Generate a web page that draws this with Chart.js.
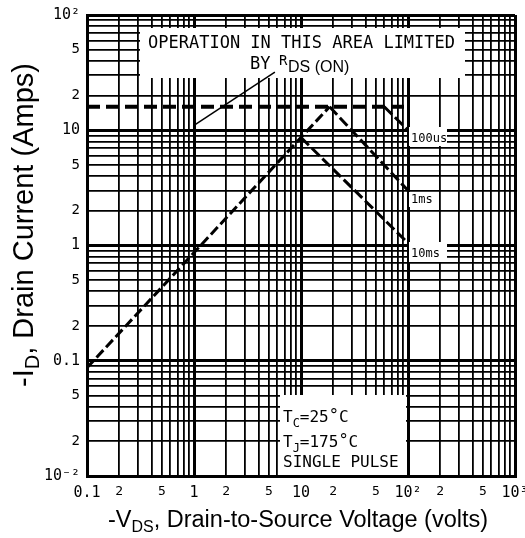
<!DOCTYPE html>
<html>
<head>
<meta charset="utf-8">
<script src="https://cdn.jsdelivr.net/npm/chart.js@4/dist/chart.umd.min.js"></script>
<style>
    body { margin: 0; background: #fff; }
    #wrap { width: 525px; height: 538px; position: relative; }
</style>
</head>
<body>
<div id="wrap"><canvas id="soa"></canvas></div>
<script>
// limits (volts, amps)
const limitV = [0.1, 100];
const limitI = [16, 16];
const rdsV = [0.1, 18.5];
const rdsI = [0.087, 16];
const us100V = [60, 100];
const us100I = [16, 10];
const ms1V = [18.5, 100];
const ms1I = [16, 3.0];
const ms10V = [10, 100];
const ms10I = [8.65, 1.05];
const leaderV = [1, 5.7];
const leaderI = [11, 32];

const xDecades = [0.1, 1, 10, 100];
const yDecades = [0.01, 0.1, 1, 10];
const xLabelValues = [0.1, 0.2, 0.5, 1, 2, 5, 10, 20, 50, 100, 200, 500, 1000];
const xLabelText = ['0.1', '2', '5', '1', '2', '5', '10', '2', '5', '10²', '2', '5', '10³'];
const yLabelValues = [0.01, 0.02, 0.05, 0.1, 0.2, 0.5, 1, 2, 5, 10, 20, 50, 100];
const yLabelText = ['10⁻²', '2', '5', '0.1', '2', '5', '1', '2', '5', '10', '2', '5', '10²'];

function gridTicks(decades){
    const ticks = [];
    decades.forEach(d => {
        for (let m = 1; m < 10; m++) ticks.push({value: d * m, major: m === 1});
    });
    ticks.push({value: decades[decades.length - 1] * 10, major: true});
    return ticks;
}
function findLabel(values, text, v){
    const i = values.findIndex(a => Math.abs(a - v) / a < 1e-6);
    return i < 0 ? '' : text[i];
}
function pairs(xs, ys){
    return xs.map((x, i) => ({x: x, y: ys[i]}));
}
function isMajorValue(v){
    const l = Math.log10(v);
    return Math.abs(l - Math.round(l)) < 1e-6;
}

const mono = '"DejaVu Sans Mono", monospace';
const sans = '"Liberation Sans", Arial, sans-serif';

const boxes = {
    id: 'boxes',
    beforeDatasetsDraw: (chart) => {
        const c = chart.ctx;
        const xs = chart.scales.x;
        const x100 = xs.getPixelForValue(100);
        c.save();
        c.fillStyle = '#fff';
        c.fillRect(140, 28, 325, 50);
        c.fillRect(280, 395, x100 - 282, chart.chartArea.bottom - 396);
        c.fillRect(x100 + 1, 127, 38, 19);
        c.fillRect(x100 + 1, 192, 24, 15);
        c.fillRect(x100 + 1, 242, 38, 20);

        c.fillStyle = '#000';
        c.textBaseline = 'alphabetic';
        c.font = '17px ' + mono;
        c.fillText('OPERATION IN THIS AREA LIMITED', 148, 48);
        c.fillText('BY', 250, 69);
        c.font = '14px ' + mono;
        c.fillText('R', 279, 65);
        c.font = '16px ' + sans;
        c.fillText('DS (ON)', 288, 72);

        const line = (parts, x, y) => {
            parts.forEach(p => {
                c.font = p[1] + 'px ' + mono;
                c.fillText(p[0], x, y + p[2]);
                x += c.measureText(p[0]).width;
            });
        };
        line([['T', 16, 0], ['C', 12, 5], ['=25', 16, 0], ['°', 17, -1], ['C', 16, 0]], 283, 422);
        line([['T', 16, 0], ['J', 12, 5], ['=175', 16, 0], ['°', 17, -1], ['C', 16, 0]], 283, 447);
        line([['SINGLE PULSE', 16, 0]], 283, 467);

        c.font = '12px ' + mono;
        c.fillText('100us', x100 + 3, 142);
        c.fillText('1ms', x100 + 3, 203);
        c.fillText('10ms', x100 + 3, 257);
        c.restore();
    },
    afterDraw: (chart) => {
        const c = chart.ctx;
        c.save();
        c.fillStyle = '#000';
        c.textBaseline = 'alphabetic';
        const parts = (list) => list.map(p => {
            c.font = p[1] + 'px ' + sans;
            return {t: p[0], size: p[1], dy: p[2], w: c.measureText(p[0]).width};
        });
        const draw = (items, x, y) => {
            items.forEach(p => {
                c.font = p.size + 'px ' + sans;
                c.fillText(p.t, x, y + p.dy);
                x += p.w;
            });
        };
        const xt = parts([['-V', 23.5, 0], ['DS', 16, 5], [', Drain-to-Source Voltage (volts)', 23.5, 0]]);
        const xw = xt.reduce((s, p) => s + p.w, 0);
        draw(xt, 298 - xw / 2, 527);

        const yt = parts([['-I', 29, 0], ['D', 20, 6], [', Drain Current (Amps)', 29, 0]]);
        const yw = yt.reduce((s, p) => s + p.w, 0);
        c.translate(33, 225);
        c.rotate(-Math.PI / 2);
        draw(yt, -yw / 2, 0);
        c.restore();
    }
};

const dashed = (data, width, dash) => ({
    data: data,
    borderColor: '#000',
    borderWidth: width,
    borderDash: dash,
    pointRadius: 0,
    showLine: true,
    fill: false
});

new Chart(document.getElementById('soa'), {
    type: 'scatter',
    data: {
        datasets: [
            dashed(pairs(limitV, limitI), 4, [13, 6]),
            dashed(pairs(rdsV, rdsI), 3, [10, 4]),
            dashed(pairs(us100V, us100I), 3, [11, 4]),
            dashed(pairs(ms1V, ms1I), 3, [11, 4]),
            dashed(pairs(ms10V, ms10I), 3, [11, 4]),
            dashed(pairs(leaderV, leaderI), 1.5, [])
        ]
    },
    plugins: [boxes],
    options: {
        responsive: true,
        maintainAspectRatio: false,
        animation: false,
        layout: { padding: { top: 15, right: 10, left: 0, bottom: 0 } },
        plugins: { legend: { display: false }, tooltip: { enabled: false } },
        scales: {
            x: {
                type: 'logarithmic',
                min: 0.1,
                max: 1000,
                afterBuildTicks: (s) => { s.ticks = gridTicks(xDecades); },
                afterFit: (s) => { s.height = 62; s.paddingLeft = 0; s.paddingRight = 0; },
                grid: {
                    color: '#000',
                    lineWidth: (ctx) => ctx.tick && ctx.tick.major ? 3 : 1.8,
                    drawTicks: false
                },
                border: { color: '#000', width: 3 },
                ticks: {
                    autoSkip: false,
                    maxRotation: 0,
                    minRotation: 0,
                    padding: 8,
                    color: '#000',
                    font: (ctx) => ({ family: mono, size: ctx.tick && isMajorValue(ctx.tick.value) ? 15 : 13 }),
                    callback: (v) => findLabel(xLabelValues, xLabelText, v)
                }
            },
            y: {
                type: 'logarithmic',
                min: 0.01,
                max: 100,
                afterBuildTicks: (s) => { s.ticks = gridTicks(yDecades); },
                afterFit: (s) => { s.width = 87; s.paddingTop = 0; s.paddingBottom = 0; },
                grid: {
                    color: '#000',
                    lineWidth: (ctx) => ctx.tick && ctx.tick.major ? 3 : 1.8,
                    drawTicks: false
                },
                border: { color: '#000', width: 3 },
                ticks: {
                    autoSkip: false,
                    padding: 7,
                    color: '#000',
                    font: (ctx) => ({ family: mono, size: ctx.tick && isMajorValue(ctx.tick.value) ? 15 : 14 }),
                    callback: (v) => findLabel(yLabelValues, yLabelText, v)
                }
            }
        }
    }
});
</script>
</body>
</html>
